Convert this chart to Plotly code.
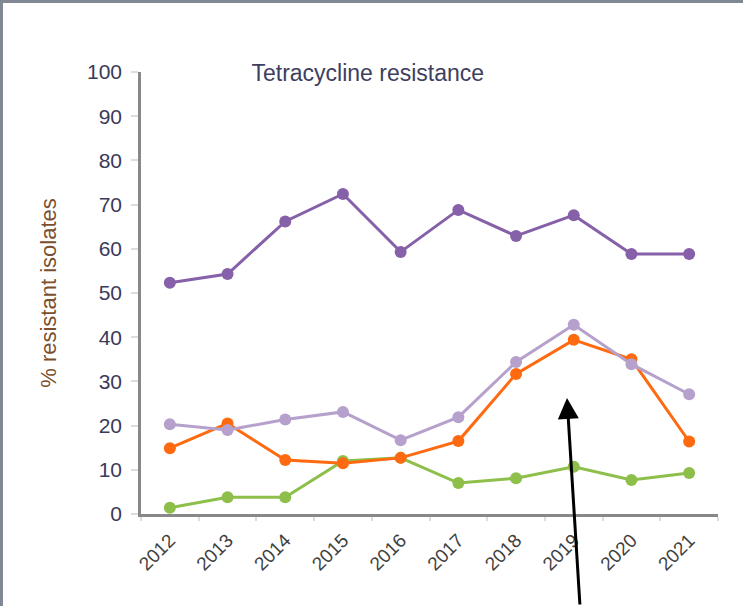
import plotly.graph_objects as go

years = ["2012", "2013", "2014", "2015", "2016", "2017", "2018", "2019", "2020", "2021"]
series_dark_purple = [52.3, 54.3, 66.2, 72.4, 59.3, 68.8, 62.9, 67.6, 58.8, 58.8]
series_light_purple = [20.3, 19.0, 21.4, 23.1, 16.7, 21.9, 34.4, 42.8, 33.9, 27.1]
series_orange = [14.9, 20.5, 12.2, 11.5, 12.7, 16.5, 31.7, 39.4, 35.0, 16.4]
series_green = [1.4, 3.8, 3.8, 12.0, 12.7, 7.0, 8.1, 10.7, 7.7, 9.3]
y_ticks = [0, 10, 20, 30, 40, 50, 60, 70, 80, 90, 100]

title_text = "Tetracycline resistance"
y_title = "% resistant isolates"

FONT = "Liberation Sans, Arial, sans-serif"

fig = go.Figure()

def add_series(vals, color):
    fig.add_trace(go.Scatter(
        x=years, y=vals, mode="lines+markers",
        line=dict(color=color, width=3),
        marker=dict(color=color, size=12),
        showlegend=False, cliponaxis=False,
    ))

add_series(series_green, "#8dbf4a")
add_series(series_orange, "#ff6a10")
add_series(series_light_purple, "#b6a0cc")
add_series(series_dark_purple, "#8660a8")

fig.update_layout(
    width=743, height=606,
    margin=dict(l=141, r=25, t=72, b=92),
    paper_bgcolor="white", plot_bgcolor="white",
    font=dict(family=FONT),
    title=dict(text=title_text, x=0.495, xanchor="center", y=1 - 73 / 606,
               yanchor="middle", font=dict(size=23, color="#3e3e5e", family=FONT)),
    xaxis=dict(
        type="category", range=[-0.5, 9.5],
        showline=True, linecolor="#888888", linewidth=2.5,
        ticks="outside", tickson="boundaries", ticklen=4, tickcolor="#dddddd", tickwidth=2,
        tickangle=-45, tickfont=dict(size=19, color="#404040"), ticklabelstandoff=5,
        showgrid=False, zeroline=False, fixedrange=True,
    ),
    yaxis=dict(
        range=[0, 100], tickvals=y_ticks,
        showline=True, linecolor="#888888", linewidth=2.5,
        ticks="outside", ticklen=7, tickcolor="#dddddd", tickwidth=2,
        tickfont=dict(size=21, color="#3a3a5a"), ticklabelstandoff=5,
        title=dict(text=y_title, font=dict(size=22, color="#7b4f2e"), standoff=25),
        showgrid=False, zeroline=False, fixedrange=True,
    ),
)

# Frame of the picture (top and left edges)
fig.add_shape(type="rect", xref="paper", yref="paper",
              x0=-0.2444, x1=1.1, y0=1.1561, y1=1.1629,
              fillcolor="#7f8893", line=dict(width=0), layer="above")
fig.add_shape(type="rect", xref="paper", yref="paper",
              x0=-0.2444, x1=-0.2392, y0=-0.25, y1=1.1629,
              fillcolor="#7f8893", line=dict(width=0), layer="above")

# Arrow pointing at 2019
fig.add_annotation(
    xref="paper", yref="paper", x=(567 - 141) / 577, y=(514 - 398) / 442,
    ax=13, ay=215, axref="pixel", ayref="pixel",
    text="", showarrow=True, arrowhead=2, arrowsize=1.4, arrowwidth=3,
    arrowcolor="black",
)

fig.write_html("out.html", config={"displayModeBar": False},
               post_script="document.body.style.margin='0px';document.body.style.overflow='hidden';")
